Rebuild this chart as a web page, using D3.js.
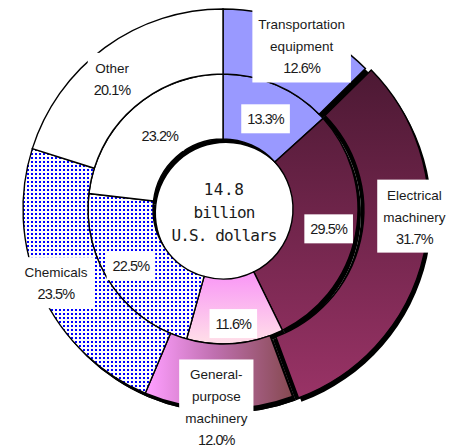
<!DOCTYPE html>
<html>
<head>
<meta charset="utf-8">
<script src="https://cdn.jsdelivr.net/npm/d3@7"></script>
<style>
  body { margin: 0; background: #fff; }
  svg { display: block; }
</style>
</head>
<body>
<div id="chart"></div>
<script>
// ─── Data ────────────────────────────────────────────────────────────────
const categories = ['Transportation equipment', 'Electrical machinery', 'General-purpose machinery', 'Chemicals', 'Other'];
const nameLines = [['Transportation', 'equipment'], ['Electrical', 'machinery'], ['General-', 'purpose', 'machinery'], ['Chemicals'], ['Other']];
const outerValues = [12.6, 31.7, 12.0, 23.5, 20.1];   // outer ring (%)
const innerValues = [13.3, 29.5, 11.6, 22.5, 23.2];   // inner ring (%)
const centerLines = ['14.8', 'billion', 'U.S. dollars'];

// ─── Layout ──────────────────────────────────────────────────────────────
const W = 465, H = 448;
const cx = 223, cy = 209;
const rHole = 70, rMid = 135, rOuter = 200;
const explode = [0, 6, 0, 0, 0];          // outer ring slice pulled out
const shadow = { x: 3, y: 4 };
// label nudges from arc centroid
const outerNudge = [[14, -8], [22, -30], [-3, 31], [-15, 4], [-12, 5]];
const innerNudge = [[1, 4], [5, 1], [1, 13], [-7, 0], [5, 4]];

const svg = d3.select('#chart').append('svg').attr('width', W).attr('height', H);
const defs = svg.append('defs');

// electrical: dark plum -> magenta (vertical)
const gE = defs.append('linearGradient').attr('id', 'gElec')
    .attr('gradientUnits', 'userSpaceOnUse').attr('x1', 0).attr('y1', -150).attr('x2', 0).attr('y2', 200);
gE.append('stop').attr('offset', 0).attr('stop-color', '#4a1832');
gE.append('stop').attr('offset', 1).attr('stop-color', '#9c3468');

// general-purpose outer: pink -> brown (horizontal)
const gGo = defs.append('linearGradient').attr('id', 'gGenOuter')
    .attr('gradientUnits', 'userSpaceOnUse').attr('x1', -72).attr('y1', 0).attr('x2', 68).attr('y2', 0);
gGo.append('stop').attr('offset', 0).attr('stop-color', '#fb9cfb');
gGo.append('stop').attr('offset', 0.45).attr('stop-color', '#c070b0');
gGo.append('stop').attr('offset', 1).attr('stop-color', '#874a52');

// general-purpose inner: pink -> pale pink (vertical)
const gGi = defs.append('linearGradient').attr('id', 'gGenInner')
    .attr('gradientUnits', 'userSpaceOnUse').attr('x1', 0).attr('y1', 68).attr('x2', 0).attr('y2', 135);
gGi.append('stop').attr('offset', 0).attr('stop-color', '#f99af5');
gGi.append('stop').attr('offset', 1).attr('stop-color', '#ffe0e8');

// chemicals: blue dots
const pat = defs.append('pattern').attr('id', 'dots')
    .attr('patternUnits', 'userSpaceOnUse').attr('width', 4).attr('height', 4);
pat.append('rect').attr('width', 4).attr('height', 4).attr('fill', '#fff');
pat.append('rect').attr('width', 2).attr('height', 2).attr('fill', '#0000ff');

const outerFill = ['#9999ff', 'url(#gElec)', 'url(#gGenOuter)', 'url(#dots)', '#ffffff'];
const innerFill = ['#9999ff', 'url(#gElec)', 'url(#gGenInner)', 'url(#dots)', '#ffffff'];

const pie = d3.pie().sort(null).startAngle(0).endAngle(2 * Math.PI);
const outerArc = d3.arc().innerRadius(rMid).outerRadius(rOuter);
const innerArc = d3.arc().innerRadius(rHole).outerRadius(rMid);

const outerData = pie(outerValues);
const innerData = pie(innerValues);

function pullOut(d, i) {
    const a = (d.startAngle + d.endAngle) / 2;
    return [explode[i] * Math.sin(a), -explode[i] * Math.cos(a)];
}

const g = svg.append('g').attr('transform', `translate(${cx},${cy})`);

// Shadows (exploded slice also leaves a dark gap where it used to sit)
const shadowG = g.append('g').attr('fill', '#000');
shadowG.selectAll('.sh-in').data(innerData).enter().append('path')
    .attr('d', innerArc)
    .attr('transform', `translate(${shadow.x},${shadow.y})`);
shadowG.selectAll('.sh-base').data(outerData).enter().append('path')
    .attr('d', outerArc)
    .attr('transform', `translate(${shadow.x},${shadow.y})`);
shadowG.selectAll('.sh-out').data(outerData).enter().append('path')
    .attr('d', outerArc)
    .attr('transform', (d, i) => {
        const p = pullOut(d, i);
        return `translate(${p[0] + shadow.x},${p[1] + shadow.y})`;
    });

// Slices
g.selectAll('.inner').data(innerData).enter().append('path')
    .attr('class', 'inner')
    .attr('d', innerArc)
    .attr('fill', (d, i) => innerFill[i])
    .attr('stroke', '#000')
    .attr('stroke-width', 1.4);

g.selectAll('.outer').data(outerData).enter().append('path')
    .attr('class', 'outer')
    .attr('d', outerArc)
    .attr('transform', (d, i) => `translate(${pullOut(d, i)})`)
    .attr('fill', (d, i) => outerFill[i])
    .attr('stroke', '#000')
    .attr('stroke-width', 1.4);

// ─── Labels ──────────────────────────────────────────────────────────────
const labelG = svg.append('g').attr('fill', '#1a1a1a');
const LH = 22;

function drawLabel(lines, x, y, isPct) {
    const lg = labelG.append('g');
    const box = lg.append('rect').attr('fill', '#fff');
    const first = y - (lines.length - 1) * LH / 2 + 5;
    let minX = Infinity, maxX = -Infinity;
    lines.forEach((t, k) => {
        const pct = isPct[k];
        const tx = lg.append('text')
            .attr('x', x)
            .attr('y', first + k * LH)
            .attr('text-anchor', 'middle')
            .style('font-family', '"Liberation Sans", Arial, sans-serif')
            .style('font-size', pct ? '14.5px' : '13.5px')
            .style('letter-spacing', pct ? '-0.9px' : '0px')
            .text(t);
        const w = tx.node().getComputedTextLength();
        minX = Math.min(minX, x - w / 2);
        maxX = Math.max(maxX, x + w / 2);
    });
    const last = first + (lines.length - 1) * LH;
    box.attr('x', minX - 6).attr('y', first - 20)
        .attr('width', maxX - minX + 12).attr('height', last - first + 29);
}

outerData.forEach((d, i) => {
    const c = outerArc.centroid(d);
    const p = pullOut(d, i);
    const lines = nameLines[i].concat([outerValues[i].toFixed(1) + '%']);
    const isPct = lines.map((t, k) => k === lines.length - 1);
    drawLabel(lines, cx + c[0] + p[0] + outerNudge[i][0], cy + c[1] + p[1] + outerNudge[i][1], isPct);
});

innerData.forEach((d, i) => {
    const c = innerArc.centroid(d);
    drawLabel([innerValues[i].toFixed(1) + '%'], cx + c[0] + innerNudge[i][0], cy + c[1] + innerNudge[i][1], [true]);
});

// ─── Centre total ────────────────────────────────────────────────────────
centerLines.forEach((t, k) => {
    svg.append('text')
        .attr('x', cx + 1)
        .attr('y', cy - 14 + k * 23)
        .attr('text-anchor', 'middle')
        .style('font-family', '"DejaVu Sans Mono", monospace')
        .style('font-size', '16px')
        .style('letter-spacing', k === 0 ? '0.5px' : '-0.9px')
        .attr('fill', '#1a1a1a')
        .text(t);
});
</script>
</body>
</html>
